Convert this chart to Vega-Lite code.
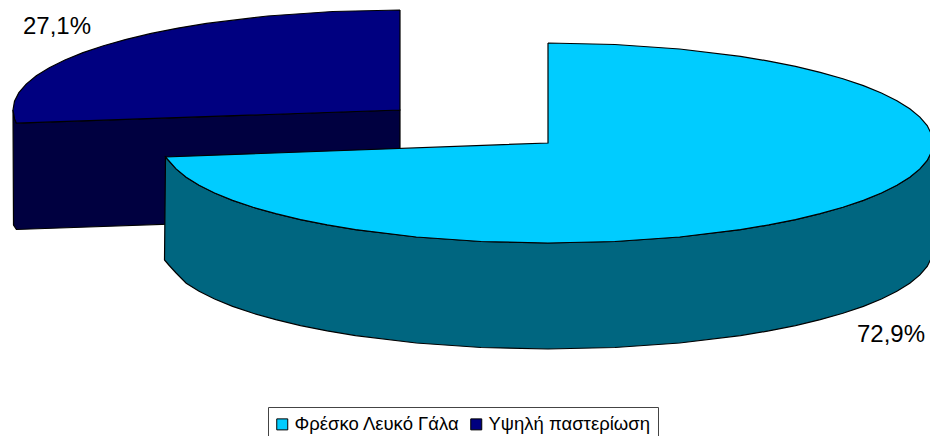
{"$schema":"https://vega.github.io/schema/vega-lite/v6.json","width":930,"height":436,"padding":0,"autosize":{"type":"none"},"background":"white",
"config":{"view":{"stroke":null},"font":"Liberation Sans"},
"encoding":{"x":{"field":"u","type":"quantitative","scale":{"domain":[0,930],"nice":false,"zero":false},"axis":null},"y":{"field":"v","type":"quantitative","scale":{"domain":[436,0],"nice":false,"zero":false},"axis":null},"order":{"field":"i","type":"quantitative"}},
"layer":[
{"data":{"values":[{"i":0,"u":13,"v":110},{"i":1,"u":14.5,"v":118},{"i":2,"u":16.4,"v":123.2},{"i":3,"u":400,"v":110},{"i":4,"u":400,"v":216},{"i":5,"u":16.4,"v":229.5},{"i":6,"u":13.5,"v":225},{"i":7,"u":13,"v":110}]},"mark":{"type":"line","fill":"#000040","stroke":"black","strokeWidth":1.2,"clip":true}},
{"data":{"values":[{"s":"Υψηλή παστερίωση","i":0,"u":400,"v":10},{"s":"Υψηλή παστερίωση","i":1,"u":332.8,"v":11.5},{"s":"Υψηλή παστερίωση","i":2,"u":267.6,"v":16},{"s":"Υψηλή παστερίωση","i":3,"u":206.5,"v":23.4},{"s":"Υψηλή παστερίωση","i":3.5,"u":178,"v":28.1},{"s":"Υψηλή παστερίωση","i":4,"u":151.2,"v":33.4},{"s":"Υψηλή παστερίωση","i":4.5,"u":126.3,"v":39.3},{"s":"Υψηλή παστερίωση","i":5,"u":103.5,"v":45.7},{"s":"Υψηλή παστερίωση","i":5.5,"u":83,"v":52.6},{"s":"Υψηλή παστερίωση","i":6,"u":64.9,"v":60},{"s":"Υψηλή παστερίωση","i":7,"u":49.3,"v":67.7},{"s":"Υψηλή παστερίωση","i":8,"u":36.3,"v":75.8},{"s":"Υψηλή παστερίωση","i":9,"u":26.2,"v":84.1},{"s":"Υψηλή παστερίωση","i":10,"u":18.9,"v":92.6},{"s":"Υψηλή παστερίωση","i":11,"u":14.5,"v":101.3},{"s":"Υψηλή παστερίωση","i":12,"u":13,"v":110},{"s":"Υψηλή παστερίωση","i":13,"u":14.5,"v":118.7},{"s":"Υψηλή παστερίωση","i":14,"u":16.4,"v":123.2},{"s":"Υψηλή παστερίωση","i":15,"u":400,"v":110},{"s":"Υψηλή παστερίωση","i":16,"u":400,"v":10},{"s":"Φρέσκο Λευκό Γάλα","i":0,"u":931.5,"v":151.7},{"s":"Φρέσκο Λευκό Γάλα","i":1,"u":931.5,"v":151.7}]},"mark":{"type":"line","stroke":"black","strokeWidth":1.2,"clip":true},"encoding":{"fill":{"field":"s","type":"nominal","sort":null,"scale":{"domain":["Φρέσκο Λευκό Γάλα","Υψηλή παστερίωση"],"range":["#00CCFF","#000080"]},"legend":{"title":null,"orient":"none","legendX":268,"legendY":407,"direction":"horizontal","columns":2,"symbolType":"square","symbolSize":121,"symbolStrokeColor":"black","symbolStrokeWidth":1,"labelFont":"Liberation Sans","labelFontSize":18.5,"labelColor":"black","labelLimit":300,"strokeColor":"#444444","fillColor":"white","padding":8,"columnPadding":8,"symbolOffset":-3,"labelOffset":3}}}},
{"data":{"values":[{"i":0,"u":931.5,"v":151.7},{"i":1,"u":927.2,"v":160.4},{"i":2,"u":919.9,"v":168.9},{"i":3,"u":909.8,"v":177.2},{"i":4,"u":896.9,"v":185.3},{"i":5,"u":881.4,"v":193},{"i":5.5,"u":863.4,"v":200.4},{"i":6,"u":842.9,"v":207.3},{"i":6.5,"u":820.2,"v":213.7},{"i":7,"u":795.5,"v":219.6},{"i":7.5,"u":768.8,"v":224.9},{"i":8,"u":740.5,"v":229.6},{"i":9,"u":679.7,"v":237},{"i":10,"u":614.9,"v":241.5},{"i":11,"u":548,"v":243},{"i":12,"u":481.1,"v":241.5},{"i":13,"u":416.3,"v":237},{"i":14,"u":355.5,"v":229.6},{"i":14.5,"u":327.2,"v":224.9},{"i":15,"u":300.5,"v":219.6},{"i":15.5,"u":275.8,"v":213.7},{"i":16,"u":253.1,"v":207.3},{"i":16.5,"u":232.6,"v":200.4},{"i":17,"u":214.6,"v":193},{"i":18,"u":199.1,"v":185.3},{"i":19,"u":186.2,"v":177.2},{"i":20,"u":176.1,"v":168.9},{"i":21,"u":165.5,"v":157},{"i":22,"u":164.5,"v":260},{"i":23,"u":168.8,"v":265},{"i":24,"u":176.1,"v":273},{"i":25,"u":186.2,"v":283.2},{"i":25.5,"u":199.1,"v":291.3},{"i":26,"u":214.6,"v":299},{"i":26.5,"u":232.6,"v":306.4},{"i":27,"u":253.1,"v":313.3},{"i":27.5,"u":275.8,"v":319.7},{"i":28,"u":300.5,"v":325.6},{"i":28.5,"u":327.2,"v":330.9},{"i":29,"u":355.5,"v":335.6},{"i":30,"u":416.3,"v":343},{"i":31,"u":481.1,"v":347.5},{"i":32,"u":548,"v":349},{"i":33,"u":614.9,"v":347.5},{"i":34,"u":679.7,"v":343},{"i":35,"u":740.5,"v":335.6},{"i":35.5,"u":768.8,"v":330.9},{"i":36,"u":795.5,"v":325.6},{"i":36.5,"u":820.2,"v":319.7},{"i":37,"u":842.9,"v":313.3},{"i":37.5,"u":863.4,"v":306.4},{"i":38,"u":881.4,"v":299},{"i":38.5,"u":896.9,"v":291.3},{"i":39,"u":909.8,"v":283.2},{"i":40,"u":919.9,"v":274.9},{"i":41,"u":927.2,"v":266.4},{"i":42,"u":931.5,"v":257.7},{"i":43,"u":931.5,"v":151.7}]},"mark":{"type":"line","fill":"#006680","stroke":"black","strokeWidth":1.2,"clip":true}},
{"data":{"values":[{"i":0,"u":548,"v":43},{"i":1,"u":614.9,"v":44.5},{"i":2,"u":679.7,"v":49},{"i":3,"u":740.5,"v":56.4},{"i":3.5,"u":768.8,"v":61.1},{"i":4,"u":795.5,"v":66.4},{"i":4.5,"u":820.2,"v":72.3},{"i":5,"u":842.9,"v":78.7},{"i":5.5,"u":863.4,"v":85.6},{"i":6,"u":881.4,"v":93},{"i":7,"u":896.9,"v":100.7},{"i":8,"u":909.8,"v":108.8},{"i":9,"u":919.9,"v":117.1},{"i":10,"u":927.2,"v":125.6},{"i":11,"u":931.5,"v":134.3},{"i":12,"u":933,"v":143},{"i":13,"u":931.5,"v":151.7},{"i":14,"u":927.2,"v":160.4},{"i":15,"u":919.9,"v":168.9},{"i":16,"u":909.8,"v":177.2},{"i":17,"u":896.9,"v":185.3},{"i":18,"u":881.4,"v":193},{"i":18.5,"u":863.4,"v":200.4},{"i":19,"u":842.9,"v":207.3},{"i":19.5,"u":820.2,"v":213.7},{"i":20,"u":795.5,"v":219.6},{"i":20.5,"u":768.8,"v":224.9},{"i":21,"u":740.5,"v":229.6},{"i":22,"u":679.7,"v":237},{"i":23,"u":614.9,"v":241.5},{"i":24,"u":548,"v":243},{"i":25,"u":481.1,"v":241.5},{"i":26,"u":416.3,"v":237},{"i":27,"u":355.5,"v":229.6},{"i":27.5,"u":327.2,"v":224.9},{"i":28,"u":300.5,"v":219.6},{"i":28.5,"u":275.8,"v":213.7},{"i":29,"u":253.1,"v":207.3},{"i":29.5,"u":232.6,"v":200.4},{"i":30,"u":214.6,"v":193},{"i":31,"u":199.1,"v":185.3},{"i":32,"u":186.2,"v":177.2},{"i":33,"u":176.1,"v":168.9},{"i":34,"u":165.5,"v":157},{"i":35,"u":548,"v":143},{"i":36,"u":548,"v":43}]},"mark":{"type":"line","fill":"#00CCFF","stroke":"black","strokeWidth":1.2,"clip":true}},
{"data":{"values":[{"label":"27,1%","share":27.1,"u":57,"v":27},{"label":"72,9%","share":72.9,"u":891,"v":335}]},"mark":{"type":"text","font":"Liberation Sans","fontSize":24,"color":"black","align":"center","baseline":"middle"},"encoding":{"text":{"field":"label","type":"nominal"},"order":null}}
]}
